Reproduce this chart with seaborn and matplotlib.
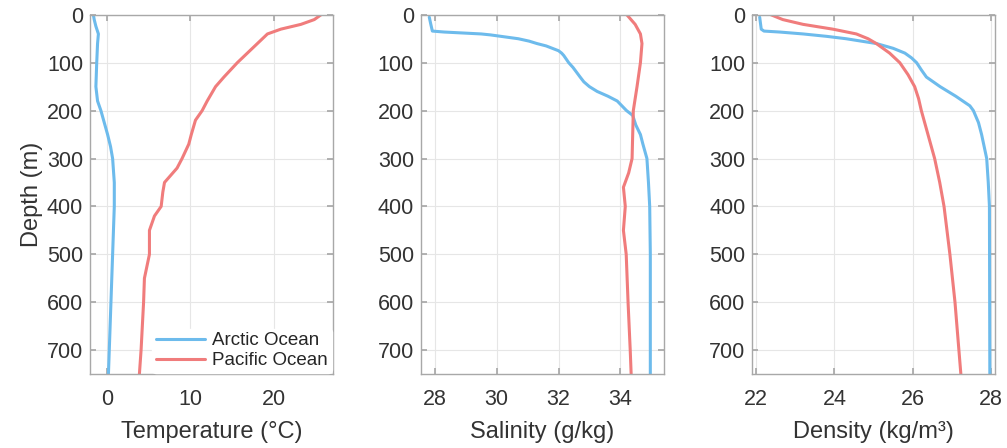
import numpy as np
import pandas as pd
import matplotlib
matplotlib.use("Agg")
import matplotlib.pyplot as plt
import seaborn as sns

# ============================================================
# Profile data
# ============================================================

# Temperature (degC)
arctic_temp_depth = [0, 10, 24, 40, 60, 100, 150, 180, 200, 225, 250, 275, 300, 350, 400, 500, 600, 700, 750]
arctic_temp = [-1.6, -1.5, -1.3, -1.0, -1.1, -1.2, -1.3, -1.1, -0.7, -0.3, 0.1, 0.45, 0.7, 0.9, 0.9,
               0.7, 0.5, 0.3, 0.2]

pacific_temp_depth = [0, 10, 20, 30, 40, 60, 80, 100, 130, 150, 180, 200, 220, 250, 270, 300, 320,
                      350, 370, 400, 420, 450, 500, 550, 600, 700, 750]
pacific_temp = [25.6, 24.8, 23.2, 20.8, 19.2, 18.0, 16.8, 15.6, 14.0, 13.0, 12.0, 11.4, 10.6, 10.1, 9.8,
                9.0, 8.4, 6.9, 6.7, 6.5, 5.7, 5.1, 5.1, 4.5, 4.4, 4.1, 3.9]

# Salinity (g/kg)
arctic_sal_depth = [5, 20, 34, 36, 40, 42, 50, 55, 60, 65, 70, 75, 80, 85, 100, 110, 130, 140, 150,
                    160, 170, 180, 190, 200, 210, 230, 250, 270, 300, 350, 400, 500, 750]
arctic_sal = [27.82, 27.87, 27.92, 28.3, 29.5, 29.8, 30.7, 31.05, 31.3, 31.6, 31.8, 32.0, 32.1, 32.17,
              32.33, 32.47, 32.7, 32.82, 33.0, 33.25, 33.6, 33.9, 34.05, 34.2, 34.4, 34.5, 34.65,
              34.73, 34.86, 34.91, 34.95, 34.97, 34.97]

pacific_sal_depth = [0, 20, 40, 60, 100, 150, 200, 300, 330, 360, 400, 450, 500, 600, 700, 750]
pacific_sal = [34.21, 34.48, 34.65, 34.7, 34.65, 34.54, 34.42, 34.38, 34.27, 34.1, 34.16, 34.1, 34.19,
               34.25, 34.32, 34.35]

# Density (kg/m^3)
arctic_dens_depth = [5, 30, 34, 36, 40, 45, 50, 60, 70, 80, 90, 100, 115, 130, 150, 170, 190, 200,
                     225, 250, 300, 350, 400, 750]
arctic_dens = [22.09, 22.13, 22.2, 22.6, 23.2, 23.8, 24.3, 25.07, 25.5, 25.8, 25.97, 26.1, 26.22,
               26.35, 26.7, 27.1, 27.46, 27.55, 27.68, 27.76, 27.89, 27.93, 27.96, 27.97]

pacific_dens_depth = [0, 10, 20, 30, 40, 50, 60, 80, 100, 125, 150, 175, 200, 250, 300, 350, 400,
                      500, 600, 700, 750]
pacific_dens = [22.38, 22.68, 23.2, 23.96, 24.56, 24.86, 25.07, 25.41, 25.67, 25.88, 26.05, 26.15,
                26.22, 26.39, 26.56, 26.69, 26.8, 26.95, 27.08, 27.18, 27.23]

# ============================================================
# Style
# ============================================================

sns.set_theme(style="white")
plt.rcParams["font.family"] = ["Liberation Sans", "DejaVu Sans"]

blue = "#6dbbec"
red = "#f07c7c"
edge = "#a8a8a8"
text_col = "#333333"

panels = [
    ("Temperature (°C)", arctic_temp_depth, arctic_temp, pacific_temp_depth, pacific_temp,
     (-2, 27), [0, 10, 20]),
    ("Salinity (g/kg)", arctic_sal_depth, arctic_sal, pacific_sal_depth, pacific_sal,
     (27.55, 35.4), [28, 30, 32, 34]),
    ("Density (kg/m³)", arctic_dens_depth, arctic_dens, pacific_dens_depth, pacific_dens,
     (21.9, 28.1), [22, 24, 26, 28]),
]

fig = plt.figure(figsize=(10.07, 4.48), dpi=100)
lefts = [0.0894, 0.418, 0.747]

for i, (label, ad, av, pd_, pv, xlim, xticks) in enumerate(panels):
    ax = fig.add_axes([lefts[i], 0.165, 0.241, 0.802])

    arctic = pd.DataFrame({"depth": ad, "value": av})
    pacific = pd.DataFrame({"depth": pd_, "value": pv})

    sns.lineplot(data=arctic, x="value", y="depth", sort=False, estimator=None,
                 color=blue, linewidth=2.2, ax=ax, label="Arctic Ocean")
    sns.lineplot(data=pacific, x="value", y="depth", sort=False, estimator=None,
                 color=red, linewidth=2.2, ax=ax, label="Pacific Ocean")

    ax.set_xlim(*xlim)
    ax.set_ylim(750, 0)
    ax.set_xticks(xticks)
    ax.set_yticks([0, 100, 200, 300, 400, 500, 600, 700])
    ax.grid(True, color="#e6e6e6", linewidth=0.8)
    ax.set_axisbelow(True)

    for s in ax.spines.values():
        s.set_color(edge)
        s.set_linewidth(1.0)

    ax.tick_params(axis="both", direction="in", length=4, color=edge,
                   labelsize=15.5, labelcolor=text_col, top=True, right=True,
                   bottom=True, left=True)
    ax.tick_params(axis="x", pad=10.5)
    ax.tick_params(axis="y", pad=5)

    ax.set_xlabel(label, fontsize=17, color=text_col, labelpad=8)
    if i == 0:
        ax.set_ylabel("Depth (m)", fontsize=17, color=text_col, labelpad=3)
        leg = ax.legend(loc="lower right", frameon=True, fontsize=13.5,
                        handlelength=2.6, borderaxespad=0.05, handletextpad=0.4,
                        labelspacing=0.15, borderpad=0.2)
        leg.get_frame().set_edgecolor("white")
        leg.get_frame().set_facecolor("white")
        leg.get_frame().set_alpha(1.0)
    else:
        ax.set_ylabel("")
        if ax.get_legend() is not None:
            ax.get_legend().remove()

plt.savefig("out.png", dpi=100)
